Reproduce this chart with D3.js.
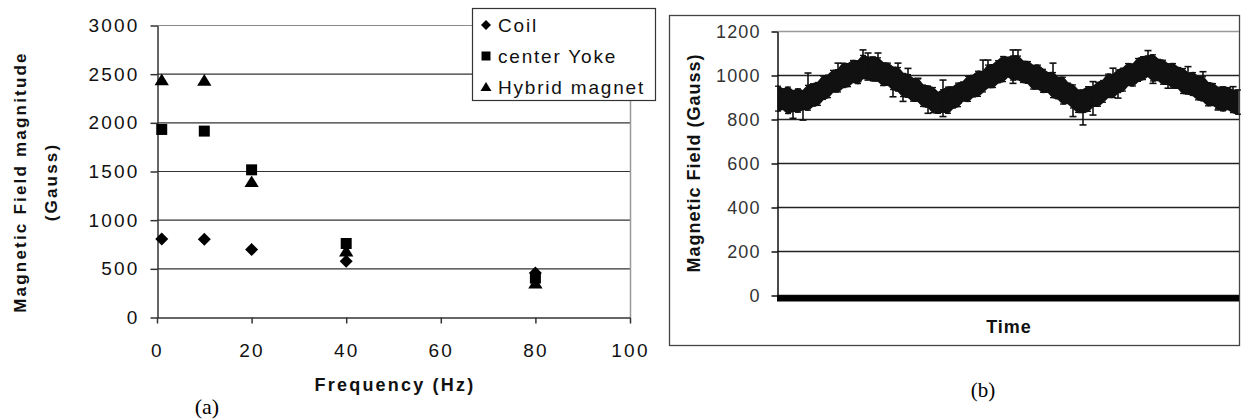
<!DOCTYPE html>
<html>
<head>
<meta charset="utf-8">
<script src="https://cdnjs.cloudflare.com/ajax/libs/d3/7.8.5/d3.min.js"></script>
<style>
body{margin:0;background:#fff;}
svg text{font-family:"Liberation Sans",Arial,sans-serif;}
</style>
</head>
<body>
<div id="wrapper"></div>
<script>
// chart (a): field magnitude vs frequency
var freqs = [1, 10, 20, 40, 80];
var coil = [802, 800, 693, 574, 452];
var centerYoke = [1927, 1910, 1512, 755, 400];
var hybridMagnet = [2434, 2430, 1388, 676, 345];
var seriesNames = ['Coil', 'center Yoke', 'Hybrid magnet'];
var freqTicks = [0, 20, 40, 60, 80, 100];
var gaussTicks = [0, 500, 1000, 1500, 2000, 2500, 3000];

// chart (b): field vs time, band edges (one sample every ~5px)
var fieldTicks = [0, 200, 400, 600, 800, 1000, 1200];
var fieldHigh = [949,936,945,928,937,928,953,960,966,995,999,1021,1024,1053,1051,1066,1064,1089,1080,1082,
  1078,1055,1054,1035,1034,1007,1002,984,982,954,950,943,920,933,945,945,963,968,994,998,
  1017,1015,1045,1047,1065,1084,1080,1086,1086,1062,1061,1043,1045,1026,1010,1011,989,990,963,955,
  931,932,947,946,966,975,1004,1001,1023,1031,1052,1049,1075,1083,1086,1092,1071,1067,1050,1052,
  1034,1029,1008,1011,992,992,965,961,943,946,942,930,932];
var fieldLow = [836,845,825,836,831,844,840,859,862,889,897,924,923,943,947,967,961,985,983,973,
  973,952,955,934,927,902,899,881,881,857,854,829,826,833,826,850,856,883,880,901,
  903,923,943,943,965,970,993,977,980,966,962,936,938,921,923,897,892,868,871,850,
  830,830,835,858,858,876,899,898,920,927,953,950,971,979,995,973,976,958,959,940,
  941,916,914,907,887,883,860,863,847,837,844,829,822];
var spikeIdx = [3, 5, 6, 12, 16, 17, 18, 18, 20, 23, 24, 25, 26, 28, 30, 33, 33, 36, 40, 41, 42, 44,
  47, 47, 48, 55, 59, 61, 63, 63, 67, 68, 74, 75, 78, 82, 85, 88, 91];
var spikeVal = [803, 795, 1009, 1054, 970, 1114, 1100, 977, 1100, 901, 1054, 880, 1030, 985, 826, 811, 977, 872, 932, 1068, 1068, 977,
  1114, 962, 1114, 1054, 811, 773, 970, 818, 1031, 895, 1111, 962, 940, 1038, 1015, 841, 947];

var canvas = d3.select('#wrapper')
  .append('svg')
  .attr('width', 1241)
  .attr('height', 420);

function diamondPath(r){ return 'M0,' + (-r) + 'L' + r + ',0L0,' + r + 'L' + (-r) + ',0Z'; }
function squarePath(r){ return 'M' + (-r) + ',' + (-r) + 'H' + r + 'V' + r + 'H' + (-r) + 'Z'; }
function trianglePath(r){ return 'M0,' + (-r) + 'L' + (r * 1.1) + ',' + (r * 0.8) + 'L' + (-r * 1.1) + ',' + (r * 0.8) + 'Z'; }
var shapes = [diamondPath, squarePath, trianglePath];

// ---------- (a) ----------
var xscale = d3.scaleLinear().domain([0, 100]).range([157, 630]);
var yscale = d3.scaleLinear().domain([0, 3000]).range([317, 25]);

canvas.append('g').attr('id', 'gridA')
  .selectAll('line')
  .data(gaussTicks.slice(1))
  .enter()
  .append('line')
  .attr('x1', xscale(0)).attr('x2', xscale(100))
  .attr('y1', function(d){ return yscale(d) + 0.5; })
  .attr('y2', function(d){ return yscale(d) + 0.5; })
  .style('stroke', function(d){ return d === 3000 ? '#8a8a8a' : '#333'; })
  .style('stroke-width', '1.2px');

canvas.append('line')
  .attr('x1', xscale(100) + 0.5).attr('x2', xscale(100) + 0.5)
  .attr('y1', yscale(3000)).attr('y2', yscale(0))
  .style('stroke', '#999').style('stroke-width', '1.5px');

var yAxisA = d3.axisLeft(yscale).tickValues(gaussTicks).tickFormat(d3.format('d'))
  .tickSize(7).tickSizeOuter(0).tickPadding(11);
var xAxisA = d3.axisBottom(xscale).tickValues(freqTicks).tickFormat(d3.format('d'))
  .tickSize(6).tickSizeOuter(0).tickPadding(20);

var yA = canvas.append('g').attr('transform', 'translate(157.5,0.5)').call(yAxisA);
var xA = canvas.append('g').attr('transform', 'translate(0,317.5)').call(xAxisA);
[yA, xA].forEach(function(g){
  g.selectAll('path,line').style('stroke', '#333').style('stroke-width', '1.5px');
  g.selectAll('text').style('font-size', '19px').style('letter-spacing', '2.2px').style('fill', '#111');
});

var seriesA = [coil, centerYoke, hybridMagnet];
var markerR = [6.5, 5.5, 6.5];
seriesA.forEach(function(vals, s){
  canvas.append('g')
    .selectAll('path')
    .data(vals)
    .enter()
    .append('path')
    .attr('d', shapes[s](markerR[s]))
    .attr('transform', function(d, i){ return 'translate(' + xscale(freqs[i]) + ',' + yscale(d) + ')'; })
    .style('fill', '#000');
});

// legend
var legend = canvas.append('g').attr('id', 'legendA');
legend.append('rect')
  .attr('x', 472.5).attr('y', 8.5).attr('width', 183).attr('height', 92)
  .style('fill', '#fff').style('stroke', '#333').style('stroke-width', '1.2px');
var legendR = [5, 4.5, 5];
seriesNames.forEach(function(name, s){
  var cy = 25 + s * 31;
  legend.append('path')
    .attr('d', shapes[s](legendR[s]))
    .attr('transform', 'translate(486,' + cy + ')')
    .style('fill', '#000');
  legend.append('text')
    .attr('x', 498).attr('y', cy + 7)
    .style('font-size', '19px').style('letter-spacing', '1.8px').style('fill', '#111')
    .text(name);
});

var titleA = canvas.append('text')
  .attr('transform', 'translate(26,182) rotate(-90)')
  .attr('text-anchor', 'middle')
  .style('font-size', '17px').style('font-weight', 'bold').style('letter-spacing', '2.2px').style('fill', '#111');
titleA.append('tspan').attr('x', 0).attr('y', 0).text('Magnetic Field magnitude');
titleA.append('tspan').attr('x', 0).attr('y', 31).text('(Gauss)');

canvas.append('text')
  .attr('x', 395).attr('y', 391)
  .attr('text-anchor', 'middle')
  .style('font-size', '18px').style('font-weight', 'bold').style('letter-spacing', '2.2px').style('fill', '#111')
  .text('Frequency (Hz)');

canvas.append('text')
  .attr('x', 207).attr('y', 414)
  .attr('text-anchor', 'middle')
  .style('font-family', '"Liberation Serif","Times New Roman",serif').style('font-size', '22px')
  .text('(a)');

// ---------- (b) ----------
canvas.append('rect')
  .attr('x', 669.5).attr('y', 15.5).attr('width', 570).attr('height', 330)
  .style('fill', 'none').style('stroke', '#444').style('stroke-width', '1.3px');

var fscale = d3.scaleLinear().domain([0, 1200]).range([295, 31]);
var tscale = d3.scaleLinear().domain([0, fieldHigh.length - 1]).range([778, 1238]);

canvas.append('g').attr('id', 'gridB')
  .selectAll('line')
  .data(fieldTicks.slice(1))
  .enter()
  .append('line')
  .attr('x1', 777).attr('x2', 1239)
  .attr('y1', function(d){ return fscale(d) + 0.5; })
  .attr('y2', function(d){ return fscale(d) + 0.5; })
  .style('stroke', function(d){ return d === 1200 ? '#999' : '#222'; })
  .style('stroke-width', '1.3px');

var yAxisB = d3.axisLeft(fscale).tickValues(fieldTicks).tickFormat(d3.format('d'))
  .tickSize(6).tickSizeOuter(0).tickPadding(11);
var yB = canvas.append('g').attr('transform', 'translate(777.5,0.5)').call(yAxisB);
yB.selectAll('path,line').style('stroke', '#111').style('stroke-width', '1.5px');
yB.selectAll('text').style('font-size', '18px').style('letter-spacing', '1.1px').style('fill', '#333');

// zero series drawn as a heavy line under the axis
canvas.append('line')
  .attr('x1', 777).attr('x2', 1239)
  .attr('y1', fscale(0) + 0.5).attr('y2', fscale(0) + 0.5)
  .style('stroke', '#111').style('stroke-width', '1.3px');
canvas.append('line')
  .attr('x1', 777).attr('x2', 1239)
  .attr('y1', fscale(0) + 3.5).attr('y2', fscale(0) + 3.5)
  .style('stroke', '#000').style('stroke-width', '6px');

var band = d3.area()
  .x(function(d, i){ return tscale(i); })
  .y0(function(d, i){ return fscale(fieldLow[i]); })
  .y1(function(d){ return fscale(d); });

canvas.append('path')
  .datum(fieldHigh)
  .attr('d', band)
  .style('fill', '#111')
  .style('stroke', '#111')
  .style('stroke-width', '1.5px');

// little '+' caps along both band edges
var caps = canvas.append('g').attr('id', 'caps').style('stroke', '#111').style('stroke-width', '1.3px');
[fieldHigh, fieldLow].forEach(function(arr){
  caps.selectAll(null)
    .data(arr)
    .enter()
    .append('line')
    .attr('x1', function(d, i){ return tscale(i) - 3; })
    .attr('x2', function(d, i){ return tscale(i) + 3; })
    .attr('y1', function(d){ return fscale(d); })
    .attr('y2', function(d){ return fscale(d); });
});

// longer error bars
var spikes = canvas.append('g').attr('id', 'spikes').style('stroke', '#111').style('stroke-width', '1.6px');
spikeVal.forEach(function(v, k){
  var i = spikeIdx[k];
  var mid = (fieldHigh[i] + fieldLow[i]) / 2;
  spikes.append('line')
    .attr('x1', tscale(i)).attr('x2', tscale(i))
    .attr('y1', fscale(mid)).attr('y2', fscale(v));
  spikes.append('line')
    .attr('x1', tscale(i) - 3.5).attr('x2', tscale(i) + 3.5)
    .attr('y1', fscale(v)).attr('y2', fscale(v));
});

canvas.append('text')
  .attr('transform', 'translate(700,163) rotate(-90)')
  .attr('text-anchor', 'middle')
  .style('font-size', '18px').style('font-weight', 'bold').style('letter-spacing', '1px').style('fill', '#111')
  .text('Magnetic Field (Gauss)');

canvas.append('text')
  .attr('x', 1009).attr('y', 333)
  .attr('text-anchor', 'middle')
  .style('font-size', '18px').style('font-weight', 'bold').style('letter-spacing', '1px').style('fill', '#111')
  .text('Time');

canvas.append('text')
  .attr('x', 983).attr('y', 397)
  .attr('text-anchor', 'middle')
  .style('font-family', '"Liberation Serif","Times New Roman",serif').style('font-size', '21px')
  .text('(b)');
</script>
</body>
</html>
